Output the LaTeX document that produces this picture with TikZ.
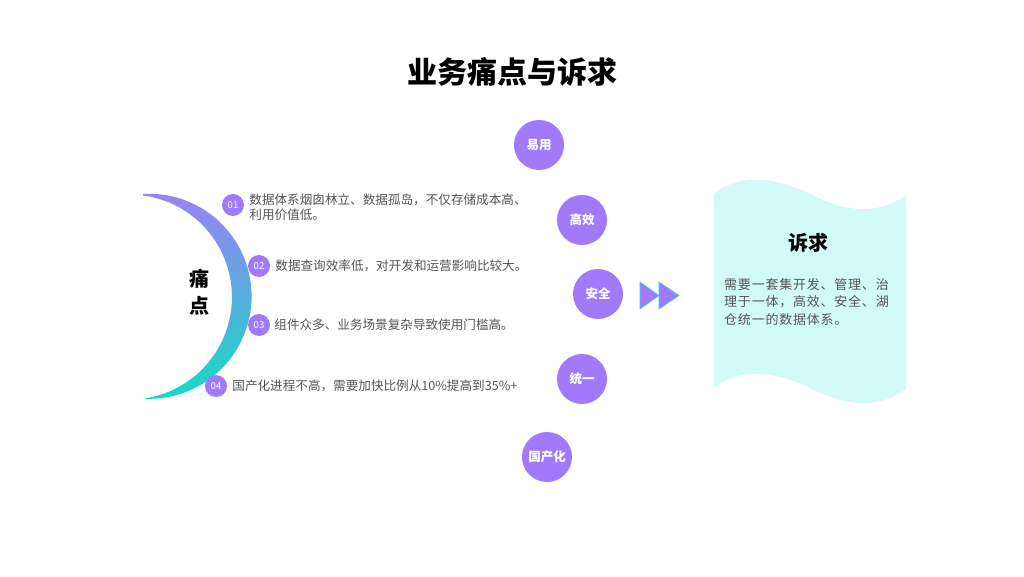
\documentclass[tikz,border=0pt]{standalone}
\usepackage{fontspec}
\setmainfont{Noto Sans CJK SC}
\newfontfamily\reqfont[LetterSpace=6]{Noto Sans CJK SC}
\usetikzlibrary{positioning}
\definecolor{painpurple}{HTML}{A07AFA}
\definecolor{crestop}{HTML}{9C80F6}
\definecolor{cresmid}{HTML}{7DB2EE}
\definecolor{cresbot}{HTML}{12DCC6}
\definecolor{bodygray}{HTML}{555555}
\definecolor{reqcyan}{HTML}{D2FAF6}
\definecolor{arrowcyan}{HTML}{2ED8E0}
\tikzset{
  bubble/.style={circle, fill=painpurple, minimum size=50pt, inner sep=0pt,
    text=white, font=\bfseries\fontsize{12.5}{14}\selectfont},
  numdot/.style={circle, fill=painpurple, minimum size=22pt, inner sep=0pt,
    text=white, font=\fontsize{9.5}{10}\selectfont},
  item/.style={inner sep=0pt, text=bodygray, align=left,
    font=\fontsize{12.6}{15}\selectfont},
  heading/.style={inner sep=0pt, text=black, align=center,
    font=\bfseries\fontsize{20}{27}\selectfont},
  fwd/.style={fill=painpurple, draw=arrowcyan, line width=0.6pt, line join=miter},
}

\begin{document}
\begin{tikzpicture}[x=1pt, y=1pt]
    \useasboundingbox (0,0) rectangle (1024,576);
    \fill[white] (0,0) rectangle (1024,576);

    \node[inner sep=0pt, font=\bfseries\fontsize{30}{32}\selectfont] (title) at (512,504) {业务痛点与诉求};

    % crescent
    \shade[top color=crestop, middle color=cresmid, bottom color=cresbot]
      (143,382) arc[start angle=93.4, end angle=-93.4, radius=102.5]
      arc[start angle=-82.4, end angle=82.4, radius=102.5] -- cycle;
    \node[heading] (pain) at (199,284) {痛\\点};

    \node[numdot] (n1) at (233,371) {01};
    \node[numdot] (n2) at (259,310) {02};
    \node[numdot] (n3) at (259,251) {03};
    \node[numdot] (n4) at (216,190) {04};
    \node[item, right=5pt of n1, yshift=-2pt] (t1) {数据体系烟囱林立、数据孤岛，不仅存储成本高、\\利用价值低。};
    \node[item, right=5pt of n2] (t2) {数据查询效率低，对开发和运营影响比较大。};
    \node[item, right=4pt of n3] (t3) {组件众多、业务场景复杂导致使用门槛高。};
    \node[item, right=5pt of n4] (t4) {国产化进程不高，需要加快比例从10\%提高到35\%+};

    % values
    \node[bubble] (easy) at (539,431) {易用};
    \node[bubble] (fast) at (582,356) {高效};
    \node[bubble] (safe) at (598,282) {安全};
    \node[bubble] (unify) at (582,197) {统一};
    \node[bubble] (local) at (547,119) {国产化};

    \draw[fwd] (640,294) -- (659,280.5) -- (640,267) -- cycle;
    \draw[fwd] (659,294) -- (679,280.5) -- (659,267) -- cycle;

    % demand flag
    \fill[reqcyan] (714,382) .. controls (735,400) and (770,402) .. (810,382)
      .. controls (850,362) and (880,362) .. (906,381) -- (906,187)
      .. controls (880,168) and (850,168) .. (810,188)
      .. controls (770,208) and (735,206) .. (714,188) -- cycle;
    \node[heading] (req) at (808,333) {诉求};
    \node[item, anchor=west, font=\reqfont\fontsize{13}{17.5}\selectfont] (reqtext) at (724,274)
      {需要一套集开发、管理、治\\理于一体，高效、安全、湖\\仓统一的数据体系。};
  \end{tikzpicture}
\end{document}
